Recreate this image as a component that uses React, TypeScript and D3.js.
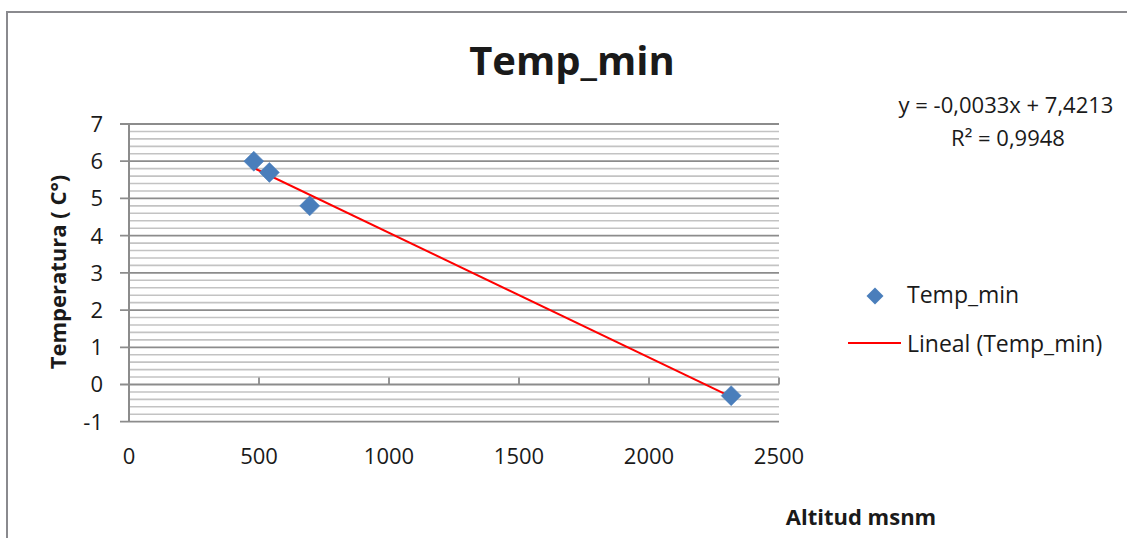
import React from "react";
import * as d3 from "d3";

// values
const altitudes = [480, 540, 695, 2316];
const temps = [6.0, 5.7, 4.8, -0.3];
const xTicks = [0, 500, 1000, 1500, 2000, 2500];
const yTicks = [-1, 0, 1, 2, 3, 4, 5, 6, 7];
const equationText = "y = -0,0033x + 7,4213";
const r2Text = "R² = 0,9948";
const seriesName = "Temp_min";
const trendName = "Lineal (Temp_min)";

const width = 1127;
const height = 538;
const font = "'Open Sans', 'Liberation Sans', sans-serif";

const App: React.FC = () => {
  const x = d3.scaleLinear().domain([0, 2500]).range([129, 779]);
  const y = d3.scaleLinear().domain([-1, 7]).range([421.7, 124]);

  const minorTicks = d3.range(-1, 7.0001, 0.2).filter(
    (v) => Math.abs(v - Math.round(v)) > 0.01
  );

  // least squares fit for the trend line
  const mx = d3.mean(altitudes) as number;
  const my = d3.mean(temps) as number;
  const sxy = d3.sum(altitudes, (a, i) => (a - mx) * (temps[i] - my));
  const sxx = d3.sum(altitudes, (a) => (a - mx) * (a - mx));
  const slope = sxy / sxx;
  const intercept = my - slope * mx;
  const [x0, x1] = d3.extent(altitudes) as [number, number];
  const trend = d3
    .line<number>()
    .x((d) => x(d))
    .y((d) => y(slope * d + intercept))([x0, x1]);

  const diamond = d3.symbol(d3.symbolSquare, 200)();
  const legendDiamond = d3.symbol(d3.symbolSquare, 144)();

  return (
    <svg
      width={width}
      height={height}
      style={{ position: "absolute", left: 0, top: 0, background: "#fff" }}
      fontFamily={font}
    >
      {/* chart frame */}
      <path d={`M7,${height + 5}V12H${width + 5}`} fill="none" stroke="#8a8a8e" strokeWidth={2} />

      <text x={572} y={75} textAnchor="middle" fontSize={40} fontWeight="bold" fill="#1a1a1a">
        {seriesName}
      </text>

      {/* minor grid */}
      {minorTicks.map((v) => (
        <line key={"m" + v} x1={x(0)} x2={x(2500)} y1={y(v)} y2={y(v)} stroke="#c3c3c3" strokeWidth={1.6} />
      ))}
      {/* major grid */}
      {yTicks.map((v) => (
        <line key={"g" + v} x1={x(0) - 9} x2={x(2500)} y1={y(v)} y2={y(v)} stroke="#8c8c8c" strokeWidth={1.8} />
      ))}
      {/* y axis */}
      <line x1={x(0)} x2={x(0)} y1={y(7)} y2={y(-1)} stroke="#8c8c8c" strokeWidth={2} />
      {yTicks.map((v) => (
        <text key={"yl" + v} x={103} y={y(v)} dy="0.36em" textAnchor="end" fontSize={22} fill="#1a1a1a">
          {v}
        </text>
      ))}
      {/* x axis ticks (inside, on the zero line) */}
      {xTicks.slice(1).map((v) => (
        <line key={"xt" + v} x1={x(v)} x2={x(v)} y1={y(0)} y2={y(0) - 7} stroke="#8c8c8c" strokeWidth={1.8} />
      ))}
      {xTicks.map((v) => (
        <text key={"xl" + v} x={x(v)} y={464} textAnchor="middle" fontSize={22} fill="#1a1a1a">
          {v}
        </text>
      ))}

      {/* trend line */}
      <path d={trend as string} fill="none" stroke="#ff0000" strokeWidth={2} />

      {/* points */}
      {altitudes.map((a, i) => (
        <path
          key={"p" + i}
          d={diamond as string}
          transform={`translate(${x(a)},${y(temps[i])}) rotate(45)`}
          fill="#4a7ebb"
          stroke="#4a7ebb"
          strokeWidth={0.5}
        />
      ))}

      {/* axis titles */}
      <text
        transform={`translate(66,272) rotate(-90)`}
        textAnchor="middle"
        fontSize={22}
        fontWeight="bold"
        fill="#1a1a1a"
      >
        Temperatura ( C°)
      </text>
      <text x={861} y={525} textAnchor="middle" fontSize={22} fontWeight="bold" fill="#1a1a1a">
        Altitud msnm
      </text>

      {/* trend equation */}
      <text x={1006} y={113} textAnchor="middle" fontSize={22} fill="#1a1a1a">
        {equationText}
      </text>
      <text x={1008} y={146} textAnchor="middle" fontSize={22} fill="#1a1a1a">
        {r2Text}
      </text>

      {/* legend */}
      <path d={legendDiamond as string} transform="translate(875,296) rotate(45)" fill="#4a7ebb" />
      <text x={907} y={303} fontSize={23} fill="#1a1a1a">
        {seriesName}
      </text>
      <line x1={848} x2={901} y1={343} y2={343} stroke="#ff0000" strokeWidth={1.8} />
      <text x={907} y={352} fontSize={23} fill="#1a1a1a">
        {trendName}
      </text>
    </svg>
  );
};

export default App;
